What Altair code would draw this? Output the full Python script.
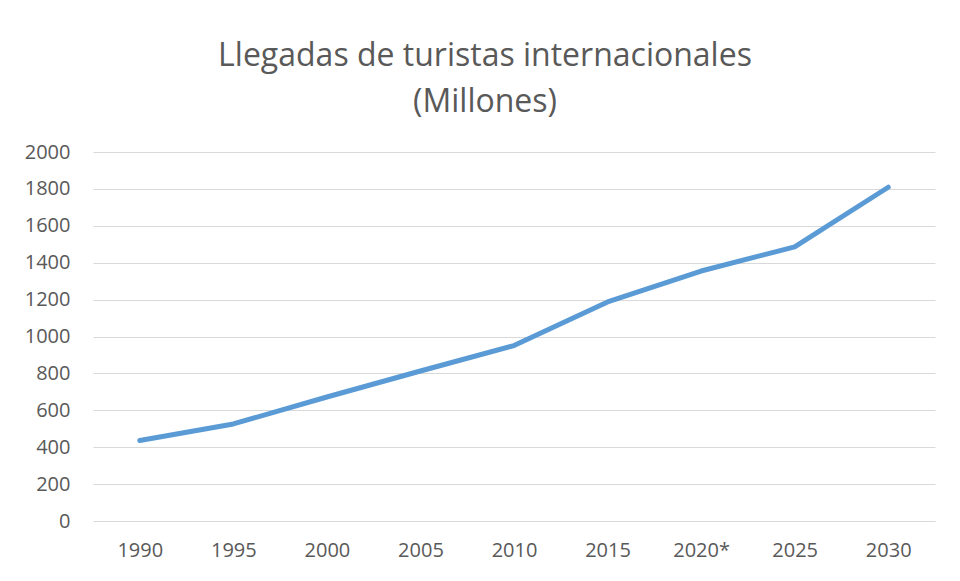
import altair as alt
import pandas as pd

years = ["1990", "1995", "2000", "2005", "2010", "2015", "2020*", "2025", "2030"]
arrivals = [436, 526, 672, 813, 951, 1187, 1355, 1486, 1809]

df = pd.DataFrame({"year": years, "value": arrivals})

font = "Open Sans"
grey = "#595959"

chart = alt.Chart(df).mark_line(
    color="#5b9bd5", strokeWidth=5, strokeCap="round", strokeJoin="round"
).encode(
    x=alt.X("year:O", sort=years, scale=alt.Scale(type="point", padding=0.5),
            axis=alt.Axis(title=None, labelAngle=0, ticks=False, domain=True,
                          domainColor="#d9d9d9", domainWidth=1.2,
                          labelPadding=19, labelFontSize=20, labelColor=grey,
                          labelFont=font)),
    y=alt.Y("value:Q", scale=alt.Scale(domain=[0, 2000], nice=False),
            axis=alt.Axis(title=None, values=list(range(0, 2001, 200)),
                          format="d", ticks=False, domain=False, grid=True,
                          gridColor="#d9d9d9", gridWidth=1.2,
                          labelPadding=23, labelFontSize=20, labelColor=grey,
                          labelFont=font)),
).properties(
    width=842,
    height=369,
    title=alt.TitleParams(
        text=["Llegadas de turistas internacionales", "(Millones)"],
        anchor="middle", dx=-29, offset=23, fontSize=32, font=font,
        fontWeight="normal", color=grey, lineHeight=46,
    ),
    autosize=alt.AutoSizeParams(type="none"),
    padding={"left": 85, "top": 144, "right": 17, "bottom": 52},
).configure(background="white").configure_view(stroke=None)

chart.save("out.html", embed_options={"renderer": "svg", "actions": False})
